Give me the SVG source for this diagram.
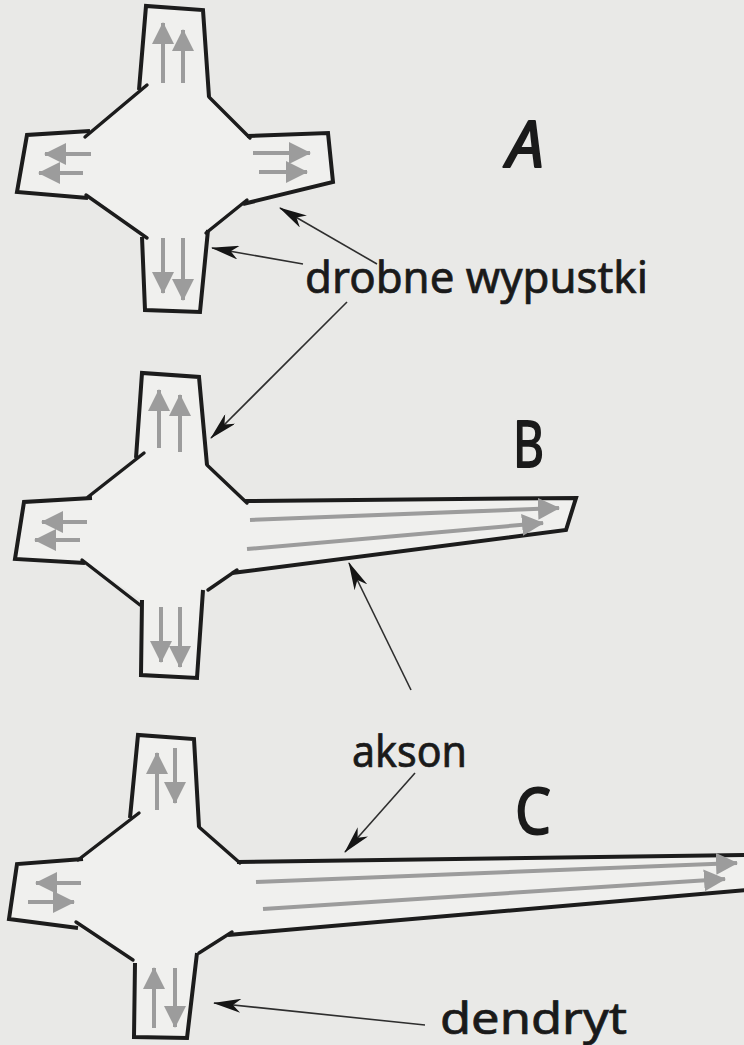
<svg xmlns="http://www.w3.org/2000/svg" width="744" height="1045" viewBox="0 0 744 1045">
  <style>
    .bg { fill: #e9e9e7; }
    .body { fill: #f0f0ee; stroke: none; }
    .edge { fill: none; stroke: #1c1c1c; stroke-width: 4; stroke-linejoin: miter; stroke-linecap: butt; }
    .diag { fill: none; stroke: #1c1c1c; stroke-width: 3.4; stroke-linecap: round; }
    .flow { fill: none; stroke: #9c9c9c; stroke-width: 4; marker-end: url(#grayHead); }
    .pointer { fill: none; stroke: #2e2e2e; stroke-width: 1.6; marker-end: url(#dart); }
    .label { font-family: "Noto Sans", "DejaVu Sans", sans-serif; font-size: 43px; fill: #1a1a1a; stroke: #1a1a1a; stroke-width: 0.7; }
    .letter { font-family: "Noto Sans", "DejaVu Sans", sans-serif; font-size: 64px; fill: #1a1a1a; stroke: #1a1a1a; stroke-width: 1.8; stroke-linejoin: round; }
  </style>
  <defs>
    <marker id="grayHead" viewBox="0 0 22 22" refX="21" refY="11" markerWidth="22" markerHeight="22" markerUnits="userSpaceOnUse" orient="auto">
      <path d="M0,0 L22,11 L0,22 Z" fill="#9c9c9c"/>
    </marker>
    <marker id="dart" viewBox="0 0 28 14" refX="27" refY="7" markerWidth="28" markerHeight="14" markerUnits="userSpaceOnUse" orient="auto">
      <path d="M0,0 L28,7 L0,14 L8,7 Z" fill="#151515"/>
    </marker>
  </defs>

  <rect class="bg" x="0" y="0" width="744" height="1045"/>

  <!-- Neuron A: four short processes -->
  <g id="neuronA">
    <polygon class="body" points="146,6 203,10 209,97 249,137 328,133 333,182 245,202 208,230 200,312 145,310 142,237 86,196 17,192 27,135 88,133 139,90"/>
    <polyline class="edge" points="139,90 146,6 203,10 209,97"/>
    <line class="diag" x1="147" y1="85" x2="85" y2="137"/>
    <polyline class="edge" points="90,131 27,135 17,192 88,198"/>
    <line class="diag" x1="86" y1="195" x2="147" y2="238"/>
    <polyline class="edge" points="142,237 145,310 200,312 208,230"/>
    <line class="diag" x1="206" y1="233" x2="247" y2="200"/>
    <polyline class="edge" points="243,204 333,182 328,133 247,136"/>
    <line class="diag" x1="209" y1="97" x2="250" y2="138"/>
    <line class="flow" x1="163" y1="83" x2="163" y2="23"/>
    <line class="flow" x1="183" y1="83" x2="183" y2="30"/>
    <line class="flow" x1="91" y1="154" x2="45" y2="154"/>
    <line class="flow" x1="83" y1="173" x2="39" y2="173"/>
    <line class="flow" x1="253" y1="153" x2="310" y2="153"/>
    <line class="flow" x1="259" y1="172" x2="307" y2="172"/>
    <line class="flow" x1="163" y1="238" x2="163" y2="293"/>
    <line class="flow" x1="183" y1="238" x2="183" y2="300"/>
  </g>

  <!-- Neuron B: one process grows into an axon -->
  <g id="neuronB">
    <polygon class="body" points="142,373 199,377 207,465 247,502 576,498 566,530 235,572 203,590 197,678 141,675 142,600 83,561 15,559 24,502 90,498 136,458"/>
    <polyline class="edge" points="136,458 142,373 199,377 207,465"/>
    <line class="diag" x1="144" y1="453" x2="88" y2="497"/>
    <polyline class="edge" points="92,498 24,502 15,559 85,563"/>
    <line class="diag" x1="82" y1="560" x2="140" y2="605"/>
    <polyline class="edge" points="142,600 141,675 197,678 203,590"/>
    <line class="diag" x1="208" y1="590" x2="237" y2="570"/>
    <polyline class="edge" points="232,573 566,530 576,498 245,501"/>
    <line class="diag" x1="207" y1="465" x2="247" y2="503"/>
    <line class="flow" x1="159" y1="448" x2="159" y2="390"/>
    <line class="flow" x1="180" y1="452" x2="180" y2="395"/>
    <line class="flow" x1="87" y1="522" x2="42" y2="522"/>
    <line class="flow" x1="80" y1="540" x2="35" y2="540"/>
    <line class="flow" x1="161" y1="607" x2="161" y2="662"/>
    <line class="flow" x1="180" y1="607" x2="180" y2="667"/>
    <line class="flow" x1="250" y1="520" x2="559" y2="508"/>
    <line class="flow" x1="247" y1="549" x2="543" y2="523"/>
  </g>

  <!-- Neuron C: polarised cell with a long axon -->
  <g id="neuronC">
    <polygon class="body" points="138,735 194,739 199,827 240,862 744,855 744,890 230,934 197,953 187,1038 134,1037 135,963 77,926 9,919 17,864 81,860 130,818"/>
    <polyline class="edge" points="130,818 138,735 194,739 199,827"/>
    <line class="diag" x1="139" y1="813" x2="78" y2="860"/>
    <polyline class="edge" points="83,859 17,864 9,919 78,928"/>
    <line class="diag" x1="76" y1="922" x2="133" y2="960"/>
    <polyline class="edge" points="135,963 134,1037 187,1038 197,953"/>
    <line class="diag" x1="199" y1="953" x2="232" y2="932"/>
    <polyline class="edge" points="228,935 746,890"/>
    <polyline class="edge" points="237,862 746,855"/>
    <line class="diag" x1="199" y1="827" x2="240" y2="863"/>
    <line class="flow" x1="157" y1="810" x2="157" y2="753"/>
    <line class="flow" x1="175" y1="748" x2="175" y2="803"/>
    <line class="flow" x1="81" y1="883" x2="36" y2="883"/>
    <line class="flow" x1="28" y1="902" x2="74" y2="902"/>
    <line class="flow" x1="154" y1="1028" x2="154" y2="968"/>
    <line class="flow" x1="175" y1="968" x2="175" y2="1027"/>
    <line class="flow" x1="256" y1="882" x2="737" y2="863"/>
    <line class="flow" x1="263" y1="909" x2="725" y2="879"/>
  </g>

  <!-- Label pointers -->
  <g id="connectors">
    <line class="pointer" x1="303" y1="264" x2="212" y2="248"/>
    <line class="pointer" x1="377" y1="264" x2="280" y2="208"/>
    <line class="pointer" x1="347" y1="302" x2="211" y2="438"/>
    <line class="pointer" x1="411" y1="690" x2="349" y2="563"/>
    <line class="pointer" x1="415" y1="773" x2="345" y2="852"/>
    <line class="pointer" x1="425" y1="1025" x2="214" y2="1003"/>
  </g>

  <!-- Labels -->
  <g id="labels">
    <text class="letter" x="507" y="167" textLength="37" lengthAdjust="spacingAndGlyphs" font-style="italic">A</text>
    <text class="letter" x="513" y="467" textLength="31" lengthAdjust="spacingAndGlyphs">B</text>
    <text class="letter" x="515" y="834" textLength="36" lengthAdjust="spacingAndGlyphs">C</text>
    <text class="label" x="305" y="293" textLength="343" lengthAdjust="spacingAndGlyphs">drobne wypustki</text>
    <text class="label" x="352" y="767" textLength="115" lengthAdjust="spacingAndGlyphs">akson</text>
    <text class="label" x="440" y="1034" textLength="187" lengthAdjust="spacingAndGlyphs">dendryt</text>
  </g>
</svg>
